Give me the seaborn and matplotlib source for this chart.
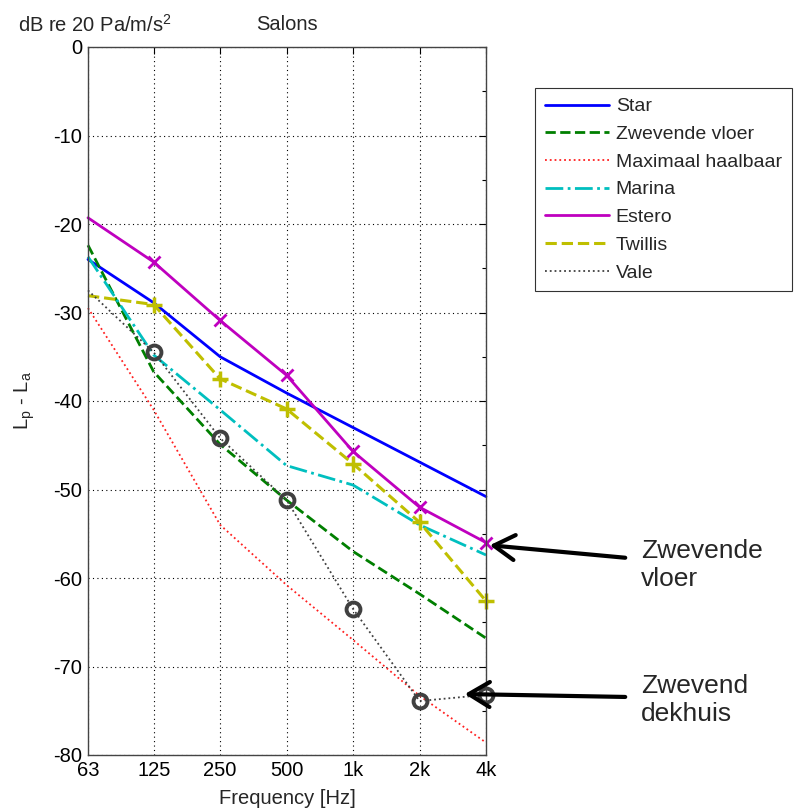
import numpy as np
import pandas as pd
import matplotlib
matplotlib.use("Agg")
import matplotlib.pyplot as plt
import seaborn as sns

freqs = [63, 125, 250, 500, 1000, 2000, 4000]
freq_labels = ["63", "125", "250", "500", "1k", "2k", "4k"]

star = [-24.0, -28.9, -35.0, -39.1, -43.0, -46.9, -50.8]
zwevende_vloer = [-22.4, -36.7, -44.9, -51.2, -57.0, -61.8, -66.8]
maximaal = [-29.5, -41.0, -54.0, -60.8, -67.0, -73.3, -78.6]
marina = [-23.7, -34.8, -41.0, -47.3, -49.5, -54.0, -57.4]
estero = [-19.3, -24.3, -30.9, -37.1, -45.7, -52.0, -56.0]
twillis = [-28.1, -29.1, -37.5, -40.9, -47.1, -53.7, -62.6]
vale = [-27.5, -34.5, -44.2, -51.2, -63.5, -73.9, -73.2]

series = [
    ("Star", star, dict(color="#0000ff", linestyle="-", linewidth=2.0)),
    ("Zwevende vloer", zwevende_vloer, dict(color="#007f00", linestyle="--", linewidth=2.0)),
    ("Maximaal haalbaar", maximaal, dict(color="#ff2020", linestyle=":", linewidth=1.3)),
    ("Marina", marina, dict(color="#00bfbf", linestyle="-.", linewidth=2.0)),
    ("Estero", estero, dict(color="#bf00bf", linestyle="-", linewidth=2.0, marker="x",
                            markersize=8, markeredgewidth=2, markeredgecolor="#bf00bf",
                            markevery=slice(1, None))),
    ("Twillis", twillis, dict(color="#bfbf00", linestyle="--", linewidth=2.2, marker="+",
                              markersize=11, markeredgewidth=2.5, markeredgecolor="#bfbf00",
                              markevery=slice(1, None))),
    ("Vale", vale, dict(color="#404040", linestyle=":", linewidth=1.3, marker="o",
                        markersize=10, markerfacecolor="none", markeredgewidth=2.8,
                        markeredgecolor="#404040", markevery=slice(1, None))),
]

sns.set_style("white")
plt.rcParams['font.family'] = ['Liberation Sans', 'DejaVu Sans']
plt.rcParams['axes.unicode_minus'] = False
fs = 14.5

fig = plt.figure(figsize=(7.95, 8.10), dpi=100)
ax = fig.add_axes([88 / 795, 55 / 810, (486 - 88) / 795, (755 - 47) / 810])

for name, vals, style in series:
    df = pd.DataFrame({"f": freqs, "v": vals})
    sns.lineplot(data=df, x="f", y="v", ax=ax, label=name, clip_on=False, **style)

ax.set_xscale("log")
ax.set_xlim(63, 4000)
ax.set_ylim(-80, 0)
ax.set_xticks(freqs)
ax.set_xticklabels(freq_labels)
ax.xaxis.set_minor_locator(matplotlib.ticker.NullLocator())
ax.set_yticks(np.arange(-80, 1, 10))
ax.set_yticks(np.arange(-75, 0, 10), minor=True)
ax.tick_params(axis="both", which="both", direction="in", top=True, right=True,
               labelsize=fs, colors="black")
ax.tick_params(which="major", length=5, width=0.8, pad=4)
ax.tick_params(which="minor", length=3, width=0.8)
ax.grid(True, which="major", linestyle=(0, (1, 3)), color="black", linewidth=0.8)
for s in ax.spines.values():
    s.set_visible(True)
    s.set_color("#444444")
    s.set_linewidth(1.0)

ax.set_xlabel("Frequency [Hz]", fontsize=fs)
ax.xaxis.set_label_coords(0.5, -0.048)
ax.set_ylabel(r"L$_\mathregular{p}$ - L$_\mathregular{a}$", fontsize=fs)
ax.yaxis.set_label_coords(-0.128, 0.5)
fig.text(287 / 795, 1 - 25 / 810, "Salons", fontsize=fs, ha="center", va="center")
fig.text(18 / 795, 1 - 25 / 810, r"dB re 20 Pa/m/s$^\mathregular{2}$", fontsize=fs, va="center")

leg = ax.legend(loc="upper left", bbox_to_anchor=(535 / 795, 1 - 88 / 810),
                bbox_transform=fig.transFigure, fontsize=14, frameon=True,
                fancybox=False, edgecolor="black", borderpad=0.5,
                handlelength=3.3, labelspacing=0.52, borderaxespad=0, handletextpad=0.35)
leg.get_frame().set_linewidth(0.8)
for h in leg.legend_handles:
    h.set_marker("")

head = "->,head_length=0.5,head_width=0.3"
ax.annotate("", xy=(487, 810 - 545), xycoords="figure pixels",
            xytext=(628, 810 - 558), textcoords="figure pixels",
            arrowprops=dict(arrowstyle=head, color="black", lw=3, mutation_scale=30),
            annotation_clip=False)
ax.annotate("", xy=(462, 810 - 694), xycoords="figure pixels",
            xytext=(628, 810 - 697), textcoords="figure pixels",
            arrowprops=dict(arrowstyle=head, color="black", lw=3, mutation_scale=30),
            annotation_clip=False)
fig.text(641 / 795, 1 - 565 / 810, "Zwevende\nvloer", fontsize=19, va="center",
         linespacing=1.2)
fig.text(641 / 795, 1 - 700 / 810, "Zwevend\ndekhuis", fontsize=19, va="center",
         linespacing=1.2)

fig.savefig("out.png", dpi=100)
